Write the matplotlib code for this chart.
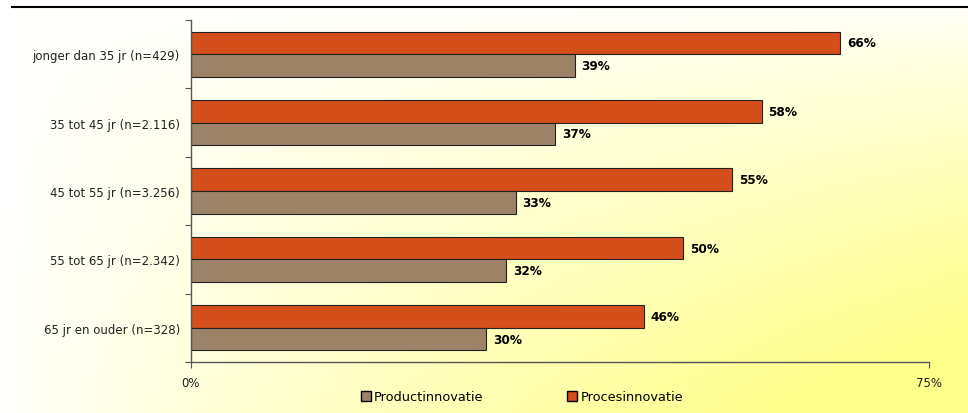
import numpy as np
import matplotlib.pyplot as plt
from matplotlib.patches import Patch
from matplotlib.lines import Line2D

categories = ["jonger dan 35 jr (n=429)", "35 tot 45 jr (n=2.116)", "45 tot 55 jr (n=3.256)",
              "55 tot 65 jr (n=2.342)", "65 jr en ouder (n=328)"]
product = [39, 37, 33, 32, 30]
proces = [66, 58, 55, 50, 46]

c_prod = "#9c8368"
c_proc = "#d44f1b"

fig = plt.figure(figsize=(9.68, 4.14), dpi=100)

# background gradient: white, turning yellow towards the bottom right corner
bg = fig.add_axes([0, 0, 1, 1], zorder=-10)
xx, yy = np.meshgrid(np.linspace(0, 1, 200), np.linspace(0, 1, 100))
t = np.clip(xx * yy * 1.25, 0, 1) ** 0.8
img = np.ones((100, 200, 3))
img[..., 2] = 1.0 - 0.45 * t
bg.imshow(img, aspect="auto", extent=[0, 1, 0, 1], origin="upper")
bg.axis("off")

# top rule
fig.add_artist(Line2D([12 / 968, 1.0], [1 - 8 / 414, 1 - 8 / 414], color="black", lw=1.5))

ax = fig.add_axes([191 / 968, 1 - 363 / 414, 738 / 968, 342 / 414])
ax.patch.set_alpha(0)

y = np.arange(len(categories))
h = 0.33
ax.barh(y - h / 2, proces, height=h, color=c_proc, edgecolor="#222222", linewidth=0.8)
ax.barh(y + h / 2, product, height=h, color=c_prod, edgecolor="#222222", linewidth=0.8)

for i in range(len(categories)):
    ax.text(proces[i] + 0.7, y[i] - h / 2, f"{proces[i]}%", va="center", ha="left",
            fontsize=8.7, fontweight="bold")
    ax.text(product[i] + 0.7, y[i] + h / 2, f"{product[i]}%", va="center", ha="left",
            fontsize=8.7, fontweight="bold")

ax.set_xlim(0, 75)
ax.set_ylim(len(categories) - 0.5, -0.5)
ax.set_xticks([0, 75])
ax.set_xticklabels(["0%", "75%"], fontsize=8.5, color="#222222")
ax.set_yticks(np.arange(-0.5, len(categories)), minor=False)
ax.set_yticklabels([])
ax.set_yticks(y, minor=True)
ax.set_yticklabels(categories, minor=True, fontsize=8.5, color="#222222")
ax.tick_params(axis="y", which="major", length=4, color="#555555")
ax.tick_params(axis="y", which="minor", length=0, pad=8)
ax.tick_params(axis="x", length=4, color="#555555", pad=6)
for s in ["top", "right"]:
    ax.spines[s].set_visible(False)
for s in ["left", "bottom"]:
    ax.spines[s].set_color("#555555")
    ax.spines[s].set_linewidth(1.0)

handles = [Patch(facecolor=c_prod, edgecolor="black", label="Productinnovatie"),
           Patch(facecolor=c_proc, edgecolor="black", label="Procesinnovatie")]
fig.legend(handles=handles, loc="center", bbox_to_anchor=(522 / 968, 1 - 398 / 414), ncol=2,
           frameon=False, fontsize=9.3, handlelength=0.75, handleheight=0.75,
           handletextpad=0.25, columnspacing=6.5)

fig.savefig("out.png", dpi=100)
